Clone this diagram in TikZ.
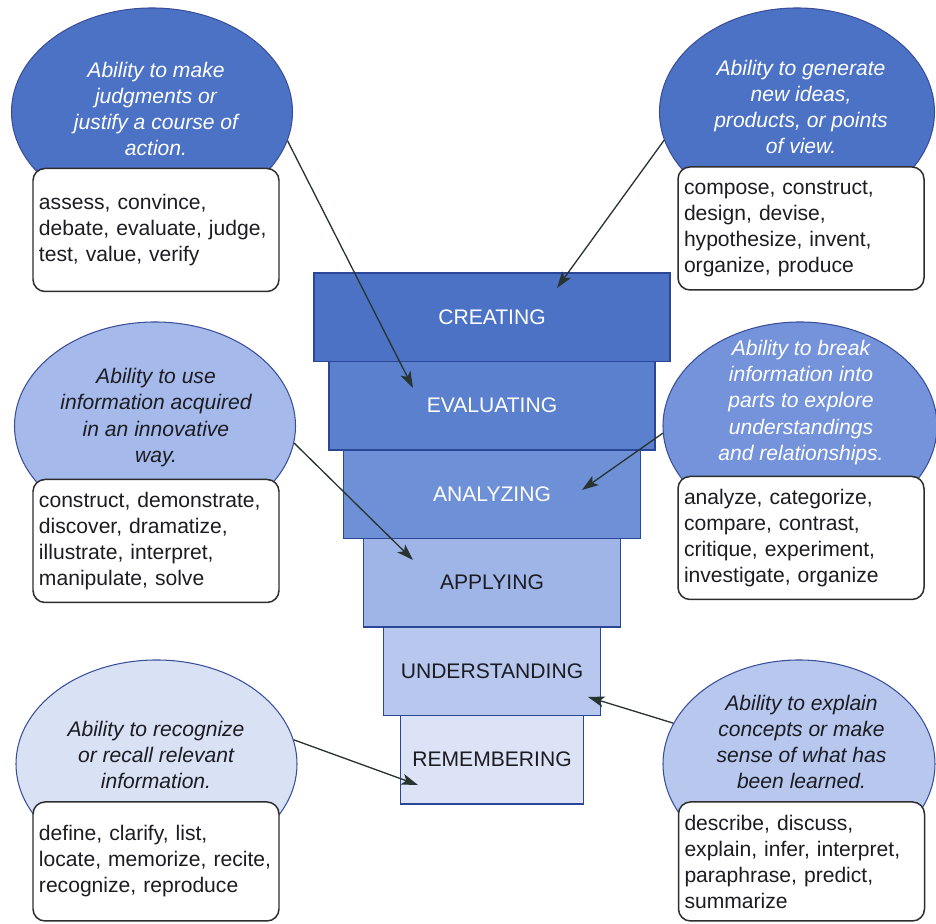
\documentclass[tikz,border=0pt]{standalone}
\usepackage{fontspec}
\setmainfont{Liberation Sans}
\usetikzlibrary{arrows.meta,positioning,shapes.geometric}
\definecolor{creat}{RGB}{76,114,198}
\definecolor{evalc}{RGB}{91,128,205}
\definecolor{anal}{RGB}{110,144,214}
\definecolor{appl}{RGB}{159,181,232}
\definecolor{under}{RGB}{183,199,238}
\definecolor{remem}{RGB}{220,227,246}
\definecolor{analblob}{RGB}{116,147,218}
\definecolor{applblob}{RGB}{165,186,234}
\definecolor{rememblob}{RGB}{217,225,245}
\definecolor{tierline}{RGB}{42,70,150}
\definecolor{blobline}{RGB}{58,79,154}
\definecolor{boxline}{RGB}{45,45,45}
\definecolor{linkc}{RGB}{40,52,48}
\definecolor{ink}{RGB}{28,28,34}
\newcommand{\bloomfont}{\fontsize{12}{14.8}\selectfont}

\begin{document}
\begin{tikzpicture}[
    tier/.style={draw=tierline,line width=0.6pt,minimum height=1.77cm,outer sep=0pt,font=\bloomfont},
    blob/.style={ellipse,draw=blobline,line width=0.6pt,minimum width=5.6cm,minimum height=4.16cm},
    verbs/.style={draw=boxline,line width=0.85pt,fill=white,rounded corners=2.4mm,align=left,
      text width=4.68cm,inner xsep=0.12cm,minimum height=2.46cm,text=ink,font=\bloomfont},
    ability/.style={align=center,inner sep=0pt,font=\bloomfont\itshape},
    link/.style={draw=linkc,line width=0.75pt,-{Stealth[length=3.3mm,width=2.2mm,inset=0.8mm]}}]
  \useasboundingbox (0,0) rectangle (18.72,18.48);
  % the six levels
  \node[tier,fill=creat,minimum width=7.12cm,text=white] (creating) at (9.84,12.135) {CREATING};
  \node[tier,fill=evalc,minimum width=6.52cm,text=white,below=0pt of creating] (evaluating) {EVALUATING};
  \node[tier,fill=anal,minimum width=5.94cm,text=white,below=0pt of evaluating] (analyzing) {ANALYZING};
  \node[tier,fill=appl,minimum width=5.14cm,text=ink,below=0pt of analyzing] (applying) {APPLYING};
  \node[tier,fill=under,minimum width=4.34cm,text=ink,below=0pt of applying] (understanding) {UNDERSTANDING};
  \node[tier,fill=remem,minimum width=3.66cm,text=ink,below=0pt of understanding] (remembering) {REMEMBERING};

  % left column
  \node[blob,fill=creat,minimum width=5.62cm] (eEval) at (3.04,16.24) {};
  \node[verbs] (bEval) at (3.12,13.88) {assess, convince,\\debate, evaluate, judge,\\test, value, verify};
  \node[ability,text=white,above=2.4mm of bEval] (tEval) {Ability to make\\judgments or\\justify a course of\\action.};

  \node[blob,fill=applblob,minimum width=5.62cm] (eAppl) at (3.10,9.96) {};
  \node[verbs] (bAppl) at (3.12,7.66) {construct, demonstrate,\\discover, dramatize,\\illustrate, interpret,\\manipulate, solve};
  \node[ability,text=ink,above=2.4mm of bAppl] (tAppl) {Ability to use\\information acquired\\in an innovative\\way.};

  \node[blob,fill=rememblob,minimum width=5.62cm] (eRemem) at (3.13,3.20) {};
  \node[verbs,minimum height=2.38cm] (bRemem) at (3.12,1.25) {define, clarify, list,\\locate, memorize, recite,\\recognize, reproduce};
  \node[ability,text=ink,above=2.4mm of bRemem] (tRemem) {Ability to recognize\\or recall relevant\\information.};

  % right column
  \node[blob,fill=creat,minimum width=5.5cm] (eCreat) at (15.94,16.24) {};
  \node[verbs] (bCreat) at (16.02,13.91) {compose, construct,\\design, devise,\\hypothesize, invent,\\organize, produce};
  \node[ability,text=white,above=2.4mm of bCreat] (tCreat) {Ability to generate\\new ideas,\\products, or points\\of view.};

  \node[blob,fill=analblob,minimum width=5.48cm] (eAnal) at (16.0,9.96) {};
  \node[verbs] (bAnal) at (16.02,7.72) {analyze, categorize,\\compare, contrast,\\critique, experiment,\\investigate, organize};
  \node[ability,text=white,above=2.2mm of bAnal] (tAnal) {Ability to break\\information into\\parts to explore\\understandings\\and relationships.};

  \node[blob,fill=under,minimum width=5.44cm] (eUnder) at (15.98,3.20) {};
  \node[verbs,minimum height=2.38cm] (bUnder) at (16.03,1.25) {describe, discuss,\\explain, infer, interpret,\\paraphrase, predict,\\summarize};
  \node[ability,text=ink,above=2.4mm of bUnder] (tUnder) {Ability to explain\\concepts or make\\sense of what has\\been learned.};

  % pointers into the levels
  \coordinate (tipEval) at (8.26,10.72);
  \coordinate (tipCreat) at (11.14,12.72);
  \coordinate (tipAppl) at (8.26,7.28);
  \coordinate (tipAnal) at (11.64,8.68);
  \coordinate (tipRemem) at (8.36,2.78);
  \coordinate (tipUnder) at (11.76,4.54);
  \draw[link] (eEval.-12) -- (tipEval);
  \draw[link] (eCreat.-168) -- (tipCreat);
  \draw[link] (eAppl.-7) -- (tipAppl);
  \draw[link] (eAnal.-177) -- (tipAnal);
  \draw[link] (eRemem.10) -- (tipRemem);
  \draw[link] (eUnder.162) -- (tipUnder);
\end{tikzpicture}
\end{document}
